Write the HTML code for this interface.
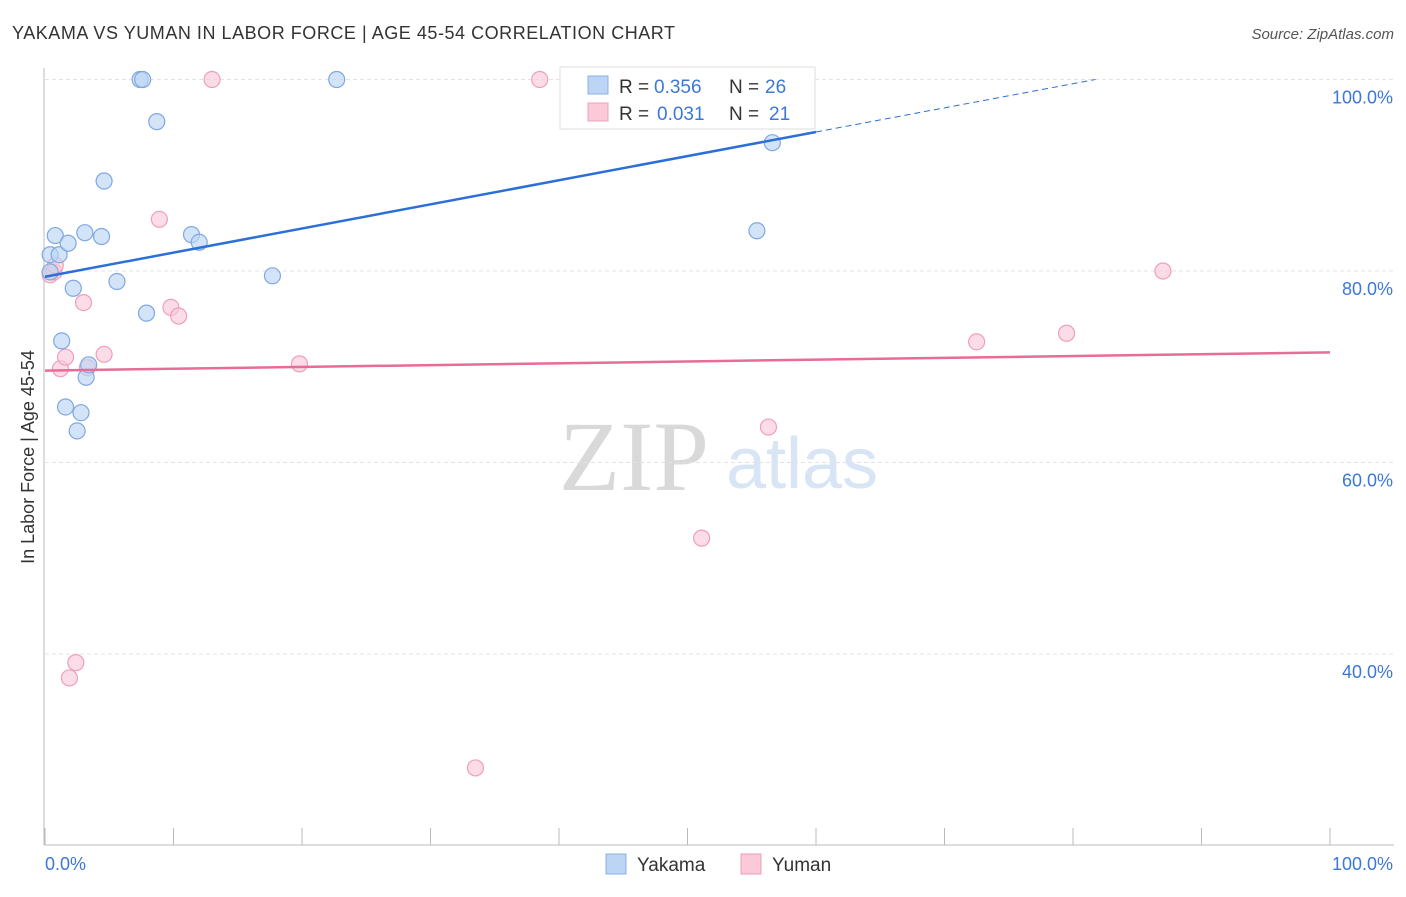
<!DOCTYPE html>
<html><head><meta charset="utf-8"><style>
body{margin:0;background:#fff;font-family:"Liberation Sans",sans-serif;}
</style></head><body>
<svg id="chart" width="1406" height="892" xmlns="http://www.w3.org/2000/svg" font-family="Liberation Sans, sans-serif">
<text x="12" y="39" font-size="18" fill="#333" textLength="663" lengthAdjust="spacing">YAKAMA VS YUMAN IN LABOR FORCE | AGE 45-54 CORRELATION CHART</text>
<text x="1394" y="39" font-size="15" fill="#555" font-style="italic" text-anchor="end">Source: ZipAtlas.com</text>
<text x="634" y="490" font-size="100" fill="#d9d9d9" text-anchor="middle" style="font-family:'Liberation Serif',serif">ZIP</text>
<text x="802" y="488" font-size="72" fill="#d8e5f5" text-anchor="middle">atlas</text>
<text transform="translate(34,457) rotate(-90)" font-size="18" fill="#333" text-anchor="middle">In Labor Force | Age 45-54</text>
<g id="grid"></g><g id="axes"></g><g id="marks"></g>
<g>
<rect x="560" y="67" width="255" height="62" fill="#fff" stroke="#ddd"/>
<rect x="588" y="76" width="20" height="18" fill="#bcd5f5" stroke="#8ab0e6"/>
<rect x="588" y="103" width="20" height="18" fill="#fbc9d8" stroke="#eea0b8"/>
<text x="619" y="93" font-size="19" fill="#333">R =</text>
<text x="654" y="93" font-size="19" fill="#3b78d8">0.356</text>
<text x="729" y="93" font-size="19" fill="#333">N =</text>
<text x="765" y="93" font-size="19" fill="#3b78d8">26</text>
<text x="619" y="120" font-size="19" fill="#333">R =</text>
<text x="657" y="120" font-size="19" fill="#3b78d8">0.031</text>
<text x="729" y="120" font-size="19" fill="#333">N =</text>
<text x="769" y="120" font-size="19" fill="#3b78d8">21</text>
</g>
<g>
<rect x="606" y="854" width="20" height="20" fill="#bcd5f5" stroke="#8ab0e6"/>
<text x="637" y="871" font-size="19" fill="#333">Yakama</text>
<rect x="741" y="854" width="20" height="20" fill="#fbc9d8" stroke="#eea0b8"/>
<text x="772" y="871" font-size="19" fill="#333">Yuman</text>
</g>
</svg>
<script>
const yakamaX=[0.4,0.8,1.1,1.8,2.2,1.3,1.6,2.5,2.8,3.2,3.4,3.1,4.4,4.6,5.6,7.4,7.6,8.7,7.9,11.4,12.0,17.7,22.7,55.4,56.6,0.4];
const yakamaY=[81.7,83.7,81.7,82.9,78.2,72.7,65.8,63.3,65.2,68.9,70.2,84.0,83.6,89.4,78.9,100,100,95.6,75.6,83.8,83.0,79.5,100,84.2,93.4,79.9];
const yumanX=[0.4,0.7,0.8,1.2,1.6,3.0,3.3,4.6,1.9,2.4,8.9,9.8,10.4,13.0,19.8,33.5,38.5,51.1,56.3,72.5,79.5,87.0];
const yumanY=[79.6,79.9,80.6,69.8,71.0,76.7,69.9,71.3,37.5,39.1,85.4,76.2,75.3,100,70.3,28.1,100,52.1,63.7,72.6,73.5,80.0];
const yTicks=[100,80,60,40];
const yTickLabels=["100.0%","80.0%","60.0%","40.0%"];
const blueLine=[79.4,0.252];
const pinkLine=[69.6,0.019];
const NS="http://www.w3.org/2000/svg";
const X=v=>45+v*12.85, Y=v=>79.5+(100-v)*9.575;
function mk(t,a,p){const e=document.createElementNS(NS,t);for(const k in a)e.setAttribute(k,a[k]);p.appendChild(e);return e;}
const grid=document.getElementById('grid'),axes=document.getElementById('axes'),marks=document.getElementById('marks');
yTicks.forEach((t,i)=>{
 const l=mk('line',{x1:45,x2:1394,y1:Y(t),y2:Y(t),stroke:'#e3e3e3','stroke-dasharray':'4,3'},grid);
 
 
 const tx=mk('text',{x:1393,y:Y(t)+24,'font-size':18,fill:'#3b78d8','text-anchor':'end'},axes);tx.textContent=yTickLabels[i];
 
 
});
mk('line',{x1:44,x2:44,y1:68,y2:845,stroke:'#bbb'},axes);
mk('line',{x1:44,x2:1394,y1:845,y2:845,stroke:'#bbb'},axes);
for(let i=0;i<=10;i++){mk('line',{x1:X(i*10),x2:X(i*10),y1:828,y2:845,stroke:'#bbb'},axes);}
let t1=mk('text',{x:45,y:870,'font-size':18,fill:'#3b78d8'},axes);t1.textContent='0.0%';


let t2=mk('text',{x:1393,y:870,'font-size':18,fill:'#3b78d8','text-anchor':'end'},axes);t2.textContent='100.0%';


function pts(xs,ys,fill,stroke,name){xs.forEach((x,i)=>{const c=mk('circle',{cx:X(x),cy:Y(ys[i]),r:8,fill:fill,stroke:stroke,'stroke-width':1.2,'fill-opacity':0.65},marks);
 
 });}
pts(yumanX,yumanY,'#fbc9d8','#eea0b8','yuman-point');
pts(yakamaX,yakamaY,'#bcd5f5','#7fa8e0','yakama-point');
const bx2=(100-blueLine[0])/blueLine[1];
let bl=mk('line',{x1:X(0),y1:Y(blueLine[0]),x2:X(60),y2:Y(blueLine[0]+blueLine[1]*60),stroke:'#2c6fd6','stroke-width':2.5},marks);


let bd=mk('line',{x1:X(60),y1:Y(blueLine[0]+blueLine[1]*60),x2:X(bx2),y2:Y(100),stroke:'#2c6fd6','stroke-width':1,'stroke-dasharray':'6,4'},marks);


let pl=mk('line',{x1:X(0),y1:Y(pinkLine[0]),x2:X(100),y2:Y(pinkLine[0]+pinkLine[1]*100),stroke:'#e86b98','stroke-width':2.5},marks);


</script>
</body></html>
